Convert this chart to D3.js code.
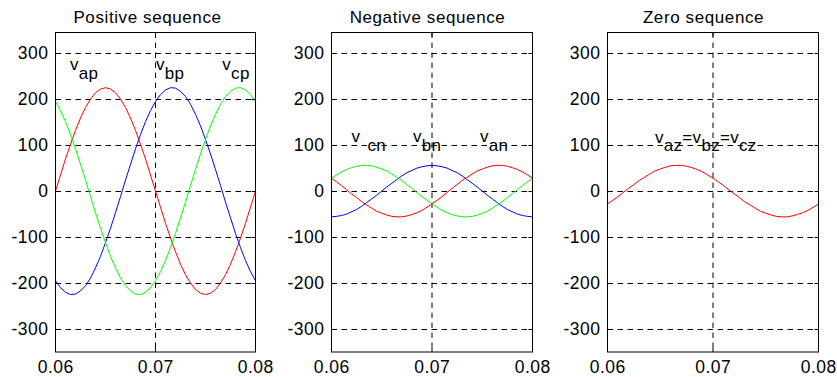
<!DOCTYPE html>
<html>
<head>
<meta charset="utf-8">
<script src="https://cdn.jsdelivr.net/npm/d3@7"></script>
<style>
  html, body { margin: 0; padding: 0; background: #fff; }
  svg { display: block; font-family: "Liberation Sans", Arial, Helvetica, sans-serif; }
</style>
</head>
<body>
<svg id="chart" width="837" height="377"></svg>
<script>
// Sample instants (s)
const time = [0.06,0.0605,0.061,0.0615,0.062,0.0625,0.063,0.0635,0.064,0.0645,
  0.065,0.0655,0.066,0.0665,0.067,0.0675,0.068,0.0685,0.069,0.0695,
  0.07,0.0705,0.071,0.0715,0.072,0.0725,0.073,0.0735,0.074,0.0745,
  0.075,0.0755,0.076,0.0765,0.077,0.0775,0.078,0.0785,0.079,0.0795,0.08];

// Positive-sequence phase voltages (V)
const vap = [0,35,70,102,132,159,182,200,214,222,225,222,214,200,182,159,132,102,70,35,
  0,-35,-70,-102,-132,-159,-182,-200,-214,-222,-225,-222,-214,-200,-182,-159,-132,-102,-70,-35,0];
const vbp = [-195,-210,-220,-225,-224,-217,-206,-189,-167,-142,-112,-81,-47,-12,24,58,92,123,151,175,
  195,210,220,225,224,217,206,189,167,142,112,81,47,12,-24,-58,-92,-123,-151,-175,-195];
const vcp = [195,175,151,123,92,58,24,-12,-47,-81,-112,-142,-167,-189,-206,-217,-224,-225,-220,-210,
  -195,-175,-151,-123,-92,-58,-24,12,47,81,112,142,167,189,206,217,224,225,220,210,195];

// Negative-sequence phase voltages (V)
const van = [28,20,12,3,-6,-14,-23,-30,-37,-44,-48,-52,-55,-56,-56,-54,-51,-47,-42,-35,
  -28,-20,-12,-3,6,14,23,30,37,44,48,52,55,56,56,54,51,47,42,35,28];
const vbn = [-56,-55,-53,-50,-45,-40,-33,-25,-17,-9,0,9,17,25,33,40,45,50,53,55,
  56,55,53,50,45,40,33,25,17,9,0,-9,-17,-25,-33,-40,-45,-50,-53,-55,-56];
const vcn = [28,35,42,47,51,54,56,56,55,52,48,44,37,30,23,14,6,-3,-12,-20,
  -28,-35,-42,-47,-51,-54,-56,-56,-55,-52,-48,-44,-37,-30,-23,-14,-6,3,12,20,28];

// Zero-sequence voltage (identical in all three phases)
const vaz = [-28,-20,-12,-3,6,14,23,30,37,44,48,52,55,56,56,54,51,47,42,35,
  28,20,12,3,-6,-14,-23,-30,-37,-44,-48,-52,-55,-56,-56,-54,-51,-47,-42,-35,-28];

const titles = ["Positive sequence", "Negative sequence", "Zero sequence"];
const xTicks = [0.06, 0.07, 0.08];
const xTickLabels = ["0.06", "0.07", "0.08"];
const yTicks = [-300, -200, -100, 0, 100, 200, 300];
const xDomain = [0.06, 0.08];
const yDomain = [-350, 345];

// Curve labels: text pieces, anchor position in data units
const posLabels = [
  { t: 0.06145, v: 263, parts: [["v", ""], ["ap", "sub"]] },
  { t: 0.07005, v: 263, parts: [["v", ""], ["bp", "sub"]] },
  { t: 0.07668, v: 263, parts: [["v", ""], ["cp", "sub"]] }
];
const negLabels = [
  { t: 0.06200, v: 106, parts: [["v", ""], ["cn", "subgap"]] },
  { t: 0.06811, v: 106, parts: [["v", ""], ["bn", "sub"]] },
  { t: 0.07478, v: 106, parts: [["v", ""], ["an", "sub"]] }
];
const zeroLabels = [
  { t: 0.06450, v: 105, parts: [["v", ""], ["az", "sub"], ["=", "up"], ["v", ""], ["bz", "sub"], ["=", "up"], ["v", ""], ["cz", "sub"]] }
];

const panels = [
  { title: titles[0], left: 55.5, right: 255.5, titleX: 147.5,
    series: [ { values: vap, color: "#ff0000" }, { values: vbp, color: "#0000ff" }, { values: vcp, color: "#00ff00" } ],
    labels: posLabels },
  { title: titles[1], left: 331.5, right: 532.5, titleX: 427.5,
    series: [ { values: van, color: "#ff0000" }, { values: vbn, color: "#0000ff" }, { values: vcn, color: "#00ff00" } ],
    labels: negLabels },
  { title: titles[2], left: 607.5, right: 818.5, titleX: 703.5,
    series: [ { values: vaz, color: "#ff0000" } ],
    labels: zeroLabels }
];

const plotTop = 32.5, plotBottom = 352;
const svg = d3.select("#chart");
const subShift = 8.5;

panels.forEach(p => {
  const x = d3.scaleLinear().domain(xDomain).range([p.left, p.right]);
  const y = d3.scaleLinear().domain(yDomain).range([plotBottom, plotTop]);
  const g = svg.append("g");

  // dashed grid
  g.append("g").selectAll("line").data(yTicks).join("line")
    .attr("x1", p.left).attr("x2", p.right)
    .attr("y1", d => Math.round(y(d)) + 0.5).attr("y2", d => Math.round(y(d)) + 0.5)
    .attr("stroke", "#000").attr("stroke-width", 1).attr("stroke-dasharray", "5.5,4.5");
  g.append("g").selectAll("line").data(xTicks.slice(1, -1)).join("line")
    .attr("x1", d => x(d)).attr("x2", d => x(d))
    .attr("y1", plotTop).attr("y2", plotBottom)
    .attr("stroke", "#000").attr("stroke-width", 1).attr("stroke-dasharray", "5.5,4.5");

  // waveforms
  const line = d3.line().x((d, i) => x(time[i])).y(d => y(d));
  p.series.forEach(s => {
    g.append("path").datum(s.values)
      .attr("d", line)
      .attr("fill", "none")
      .attr("stroke", s.color)
      .attr("stroke-width", 1);
  });

  // curve labels
  p.labels.forEach(lb => {
    const txt = g.append("text")
      .attr("x", x(lb.t)).attr("y", y(lb.v))
      .attr("font-size", 17).attr("letter-spacing", 0.3).attr("fill", "#000");
    let level = 0;
    lb.parts.forEach(([s, kind]) => {
      const ts = txt.append("tspan").text(s);
      if (kind === "sub" || kind === "subgap") {
        ts.attr("dy", subShift - level);
        level = subShift;
        if (kind === "subgap") ts.attr("dx", 7);
      } else {
        ts.attr("dy", -level);
        level = 0;
      }
    });
  });

  // axes box and inward ticks
  g.append("rect")
    .attr("x", p.left).attr("y", plotTop)
    .attr("width", p.right - p.left).attr("height", plotBottom - plotTop)
    .attr("fill", "none").attr("stroke", "#000").attr("stroke-width", 1);
  const tl = 4;
  yTicks.forEach(d => {
    const yy = Math.round(y(d)) + 0.5;
    g.append("line").attr("x1", p.left).attr("x2", p.left + tl).attr("y1", yy).attr("y2", yy).attr("stroke", "#000");
    g.append("line").attr("x1", p.right - tl).attr("x2", p.right).attr("y1", yy).attr("y2", yy).attr("stroke", "#000");
  });
  xTicks.forEach(d => {
    g.append("line").attr("x1", x(d)).attr("x2", x(d)).attr("y1", plotTop).attr("y2", plotTop + tl).attr("stroke", "#000");
    g.append("line").attr("x1", x(d)).attr("x2", x(d)).attr("y1", plotBottom - tl).attr("y2", plotBottom).attr("stroke", "#000");
  });

  // tick labels
  g.append("g").selectAll("text").data(yTicks).join("text")
    .attr("x", p.left - 7).attr("y", d => y(d))
    .attr("text-anchor", "end").attr("dominant-baseline", "central")
    .attr("font-size", 17.5).attr("letter-spacing", 0.5)
    .text(d => d);
  g.append("g").selectAll("text").data(xTicks).join("text")
    .attr("x", d => x(d) + 0.3).attr("y", 372.5)
    .attr("text-anchor", "middle")
    .attr("font-size", 17.5).attr("letter-spacing", 0.5)
    .text((d, i) => xTickLabels[i]);

  // title
  g.append("text")
    .attr("x", p.titleX).attr("y", 23)
    .attr("text-anchor", "middle")
    .attr("font-size", 17).attr("letter-spacing", 0.6)
    .text(p.title);
});
</script>
</body>
</html>
